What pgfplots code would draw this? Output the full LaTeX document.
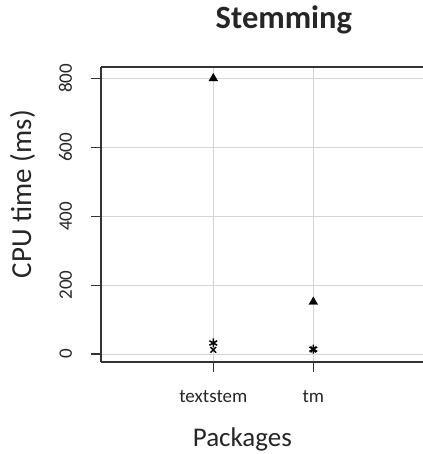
\documentclass[border=0pt]{standalone}
\usepackage{pgfplots}
\pgfplotsset{compat=1.18}
\usepackage{fontspec}
\setmainfont{Carlito}
\definecolor{axcol}{HTML}{333333}
\definecolor{gridcol}{HTML}{D4D4D4}
\begin{document}
\begin{tikzpicture}
\useasboundingbox (-101bp,-92bp) rectangle (322bp,362bp);
\begin{axis}[
  at={(0,0)}, anchor=south west,
  scale only axis, width=322bp, height=295bp,
  xmin=-0.123, xmax=3.097, ymin=-23.2, ymax=833.1,
  axis y line*=left,
  axis line style={axcol, line width=1.3bp},
  xtick={1,2}, xticklabels={textstem,tm},
  ytick={0,200,400,600,800},
  xtick pos=bottom, ytick pos=left,
  tick align=outside, major tick length=10bp,
  tick style={axcol, line width=1.2bp},
  grid=major, major grid style={gridcol, line width=1bp},
  /pgf/number format/assume math mode=true,
  ticklabel style={font=\fontsize{19bp}{21bp}\selectfont, text=black!85},
  yticklabel style={rotate=90, anchor=base},
  xticklabel style={anchor=base},
  xticklabel shift=30bp, yticklabel shift=19bp,
  every axis title shift=0pt,
  title={\textbf{Stemming}},
  title style={font=\fontsize{32.5bp}{35bp}\selectfont, at={(axis description cs:0.568,1.132)}, anchor=base, text=black!85},
  xlabel={Packages},
  xlabel style={font=\fontsize{27bp}{30bp}\selectfont, at={(axis description cs:0.439,-0.285)}, anchor=base, text=black!85},
  ylabel={CPU time (ms)},
  ylabel style={font=\fontsize{29bp}{32bp}\selectfont, at={(axis description cs:-0.217,0.569)}, anchor=base, rotate=0, text=black!85},
  clip=false,
]
\addplot[only marks, mark=triangle*, mark size=5bp, black] coordinates {(1,800) (2,151)};
\addplot[only marks, mark=x, mark size=4bp, black, line width=1.5bp] coordinates {(1,12) (2,13)};
\addplot[only marks, mark=asterisk, mark size=4.5bp, black, line width=1.5bp] coordinates {(1,32) (2,14)};
\end{axis}
\end{tikzpicture}
\end{document}
